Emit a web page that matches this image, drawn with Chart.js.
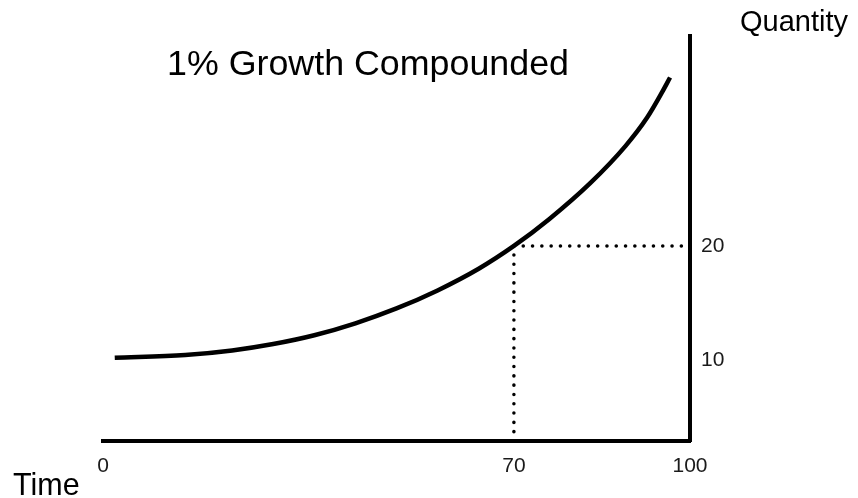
<!DOCTYPE html>
<html><head><meta charset="utf-8">
<script src="https://cdn.jsdelivr.net/npm/chart.js@4.4.1/dist/chart.umd.min.js"></script>
<style>html,body{margin:0;padding:0;background:#fff;}#wrap{width:858px;height:498px;position:relative;}</style>
</head><body><div id="wrap"><canvas id="c" width="858" height="498"></canvas></div>
<script>
const chartTitle = '1% Growth Compounded';
const xAxisLabel = 'Time';
const yAxisLabel = 'Quantity';
const timeValues = [2, 14, 22, 29, 36, 43, 50, 57, 64, 70, 76, 83, 89, 92.7, 95.2, 96.6];
const quantityValues = [10.2, 10.44, 10.84, 11.4, 12.17, 13.22, 14.52, 16.1, 18.0, 20.0, 22.34, 25.5, 28.75, 31.25, 33.43, 34.76];
const xTickValues = [0, 70, 100];
const yTickValues = [10, 20];
const markTime = 70;
const markQuantity = 20;
const xRange = [0, 100];
const yRange = [2.9, 38.4];

const FONT = '"Liberation Sans", Arial, Helvetica, sans-serif';

const textPlugin = {
  id: 'texts',
  afterDraw(chart) {
    const ctx = chart.ctx;
    ctx.save();
    ctx.fillStyle = '#000';
    ctx.textBaseline = 'alphabetic';
    ctx.textAlign = 'left';
    ctx.font = '35.8px ' + FONT;
    ctx.fillText(chartTitle, 167, 75);
    ctx.font = '30.5px ' + FONT;
    ctx.fillText(xAxisLabel, 13, 495);
    ctx.font = '29px ' + FONT;
    ctx.fillText(yAxisLabel, 740, 31);
    ctx.restore();
  }
};

const curve = timeValues.map((t, i) => ({x: t, y: quantityValues[i]}));
const hGuide = [{x: markTime, y: markQuantity}, {x: xRange[1], y: markQuantity}];
const vGuide = [{x: markTime, y: yRange[0]}, {x: markTime, y: markQuantity}];

new Chart(document.getElementById('c'), {
  type: 'line',
  data: {
    datasets: [
      {data: hGuide, borderColor: '#000', borderWidth: 3.5, borderDash: [0.1, 9.2], borderCapStyle: 'round', pointRadius: 0, tension: 0},
      {data: vGuide, borderColor: '#000', borderWidth: 3.5, borderDash: [0.1, 9.2], borderCapStyle: 'round', pointRadius: 0, tension: 0},
      {data: curve, borderColor: '#000', borderWidth: 4.5, pointRadius: 0, cubicInterpolationMode: 'monotone', fill: false}
    ]
  },
  options: {
    responsive: false,
    animation: false,
    events: [],
    layout: {padding: {left: 103, top: 36, right: 0, bottom: 0}},
    plugins: {legend: {display: false}, tooltip: {enabled: false}, title: {display: false}},
    scales: {
      x: {
        type: 'linear', position: 'bottom', min: xRange[0], max: xRange[1],
        grid: {display: false, drawTicks: false},
        border: {display: true, color: '#000', width: 4},
        ticks: {color: '#1a1a1a', font: {size: 21, family: FONT}, padding: 13, autoSkip: false, maxRotation: 0},
        afterBuildTicks: s => { s.ticks = xTickValues.map(v => ({value: v})); },
        afterFit: s => { s.height = 57; }
      },
      y: {
        type: 'linear', position: 'right', min: yRange[0], max: yRange[1],
        grid: {display: false, drawTicks: false},
        border: {display: true, color: '#000', width: 4},
        ticks: {color: '#1a1a1a', font: {size: 21, family: FONT}, padding: 11, autoSkip: false},
        afterBuildTicks: s => { s.ticks = yTickValues.map(v => ({value: v})); },
        afterFit: s => { s.width = 168; }
      }
    }
  },
  plugins: [textPlugin]
});
</script>
</body></html>
